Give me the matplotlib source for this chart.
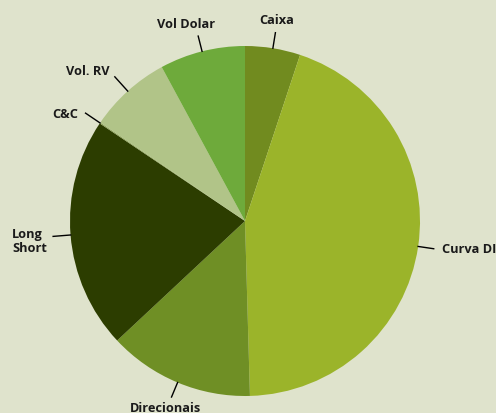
import numpy as np
import matplotlib
matplotlib.use('Agg')
import matplotlib.pyplot as plt

labels = ['Caixa', 'Curva DI', 'Direcionais', 'Long\nShort', 'C&C', 'Vol. RV', 'Vol Dolar']
values = [5.1, 44.5, 13.5, 21.4, 0.1, 7.6, 7.9]
colors = ['#718b1f', '#9bb42a', '#6f8f25', '#2c3d00', '#8da25a', '#b1c488', '#6eaa3b']

bg = '#dfe3cc'
fig = plt.figure(figsize=(4.96, 4.14), dpi=100, facecolor=bg)
ax = fig.add_axes([0, 0, 1, 1])
ax.set_facecolor(bg)

cx, cy, r = 245, 414 - 222, 175
wedges, _ = ax.pie(values, colors=colors, startangle=90, counterclock=False,
                   center=(cx, cy), radius=r, frame=True,
                   wedgeprops=dict(linewidth=0))

# label placement: (line length factor, text offset in px, ha, va)
place = {
    'Caixa': (1.09, (1, 13), 'center', 'center'),
    'Curva DI': (1.09, (8, 0), 'left', 'center'),
    'Direcionais': (1.09, (-6, -10), 'center', 'center'),
    'Long\nShort': (1.10, (-41, -4), 'left', 'center'),
    'C&C': (1.10, (-7, 0), 'right', 'center'),
    'Vol. RV': (1.11, (-5, 6), 'right', 'center'),
    'Vol Dolar': (1.09, (-12, 13), 'center', 'center'),
}

for w, lab in zip(wedges, labels):
    ang = np.deg2rad((w.theta1 + w.theta2) / 2)
    f, (ox, oy), ha, va = place[lab]
    x0, y0 = cx + r * np.cos(ang), cy + r * np.sin(ang)
    x1, y1 = cx + f * r * np.cos(ang), cy + f * r * np.sin(ang)
    ax.plot([x0, x1], [y0, y1], color='black', lw=1)
    ax.text(x1 + ox, y1 + oy, lab, ha=ha, va=va, fontsize=9.2,
            fontweight='bold', color='#1a1a1a', family='Open Sans',
            linespacing=1.05)

ax.set_xlim(0, 496)
ax.set_ylim(0, 414)
ax.set_aspect('equal')
ax.axis('off')

plt.savefig('out.png', dpi=100, facecolor=bg)
